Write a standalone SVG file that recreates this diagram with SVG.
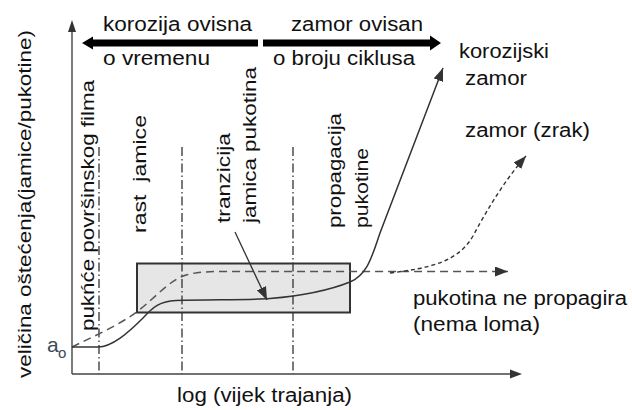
<svg xmlns="http://www.w3.org/2000/svg" width="632" height="410" viewBox="0 0 632 410">
<style>
text{font-family:"Liberation Sans",Arial,sans-serif;fill:#111}
.h{font-size:20px}
.r{font-size:18px}
.ax{stroke:#444;stroke-width:1.4;fill:none}
.dd{stroke:#333;stroke-width:1.3;stroke-dasharray:9 3 1.5 3;fill:none}
.solid{stroke:#333;stroke-width:1.5;fill:none}
.dash{stroke:#555;stroke-width:1.5;stroke-dasharray:8 5;fill:none}
.dot{stroke:#333;stroke-width:1.4;stroke-dasharray:4 3;fill:none}
</style>
<defs>
<marker id="ah" markerUnits="userSpaceOnUse" markerWidth="14" markerHeight="10" refX="13" refY="5" orient="auto">
<path d="M0,0 L13,5 L0,10 z" fill="#333"/>
</marker>
</defs>
<rect width="632" height="410" fill="#fff"/>

<g id="box">
<rect x="137" y="263.5" width="213" height="49" fill="#e6e6e6" stroke="#333" stroke-width="2"/>
</g>

<g id="axes">
<line class="ax" x1="72" y1="374" x2="72" y2="30"/>
<polygon points="72,20 68,32 76,32" fill="#333"/>
<line class="ax" x1="72" y1="374" x2="512" y2="374"/>
<polygon points="522,374 510,369.5 510,378.5" fill="#333"/>
</g>

<g id="dividers">
<line class="dd" x1="99" y1="147" x2="99" y2="374"/>
<line class="dd" x1="182" y1="147" x2="182" y2="374"/>
<line class="dd" x1="293" y1="147" x2="293" y2="374"/>
</g>

<g id="connectors">
<path class="dash" d="M72,347 C90,338 118,326 138,311 C158,295 170,280 186,275 C197,272 208,271.5 222,271.5 L508,271.5" marker-end="url(#ah)"/>
<path class="solid" d="M72,347 H98 C112,347 128,333 143,318 C154,306 160,301.5 176,300.5 C212,299.5 250,300 270,298.5 C300,296 330,290 350,282 C368,274 372,256 380,233 L443,68" marker-end="url(#ah)"/>
<path class="dot" d="M390,273 C430,268 458,262 473,236 C488,208 505,180 526,156" marker-end="url(#ah)"/>
<line x1="235" y1="232" x2="267" y2="300" stroke="#333" stroke-width="1.3" marker-end="url(#ah)"/>
</g>

<g id="regime-arrows">
<polygon points="82,43 93,36.5 93,39.5 258,39.5 258,46.5 93,46.5 93,49.5" fill="#000"/>
<polygon points="441,43 430,35.5 430,39.5 263,39.5 263,46.5 430,46.5 430,50.5" fill="#000"/>
<text class="h" x="103" y="31" textLength="149" lengthAdjust="spacingAndGlyphs">korozija ovisna</text>
<text class="h" x="291" y="31" textLength="132" lengthAdjust="spacingAndGlyphs">zamor ovisan</text>
<text class="h" x="103" y="65" textLength="107" lengthAdjust="spacingAndGlyphs">o vremenu</text>
<text class="h" x="273" y="65" textLength="142" lengthAdjust="spacingAndGlyphs">o broju ciklusa</text>
</g>

<g id="labels-right">
<text class="h" x="459" y="58" textLength="90" lengthAdjust="spacingAndGlyphs">korozijski</text>
<text class="h" x="465" y="85" textLength="62" lengthAdjust="spacingAndGlyphs">zamor</text>
<text class="h" x="465" y="137" textLength="125" lengthAdjust="spacingAndGlyphs">zamor (zrak)</text>
<text class="h" x="413" y="305" textLength="214" lengthAdjust="spacingAndGlyphs">pukotina ne propagira</text>
<text class="h" x="413" y="331" textLength="127" lengthAdjust="spacingAndGlyphs">(nema loma)</text>
</g>

<g id="axis-labels">
<text class="h" x="177" y="402" textLength="175" lengthAdjust="spacingAndGlyphs">log (vijek trajanja)</text>
<text class="r" transform="translate(31,378) rotate(-90)" font-size="19" textLength="348" lengthAdjust="spacingAndGlyphs">veličina oštećenja(jamice/pukotine)</text>
<text x="47" y="352" font-size="21" style="fill:#3b4a5a">a</text>
<text x="58" y="358" font-size="15" style="fill:#3b4a5a">o</text>
</g>

<g id="stage-labels">
<text class="r" transform="translate(94,331) rotate(-90)" textLength="251" lengthAdjust="spacingAndGlyphs">pukńće površinskog filma</text>
<text class="r" transform="translate(146,233) rotate(-90)" textLength="118" lengthAdjust="spacingAndGlyphs" xml:space="preserve">rast  jamice</text>
<text class="r" transform="translate(230,223) rotate(-90)" textLength="90" lengthAdjust="spacingAndGlyphs">tranzicija</text>
<text class="r" transform="translate(255.5,223) rotate(-90)" textLength="156" lengthAdjust="spacingAndGlyphs">jamica pukotina</text>
<text class="r" transform="translate(340.5,228) rotate(-90)" textLength="115" lengthAdjust="spacingAndGlyphs">propagacija</text>
<text class="r" transform="translate(368,228) rotate(-90)" textLength="80" lengthAdjust="spacingAndGlyphs">pukotine</text>
</g>
</svg>
